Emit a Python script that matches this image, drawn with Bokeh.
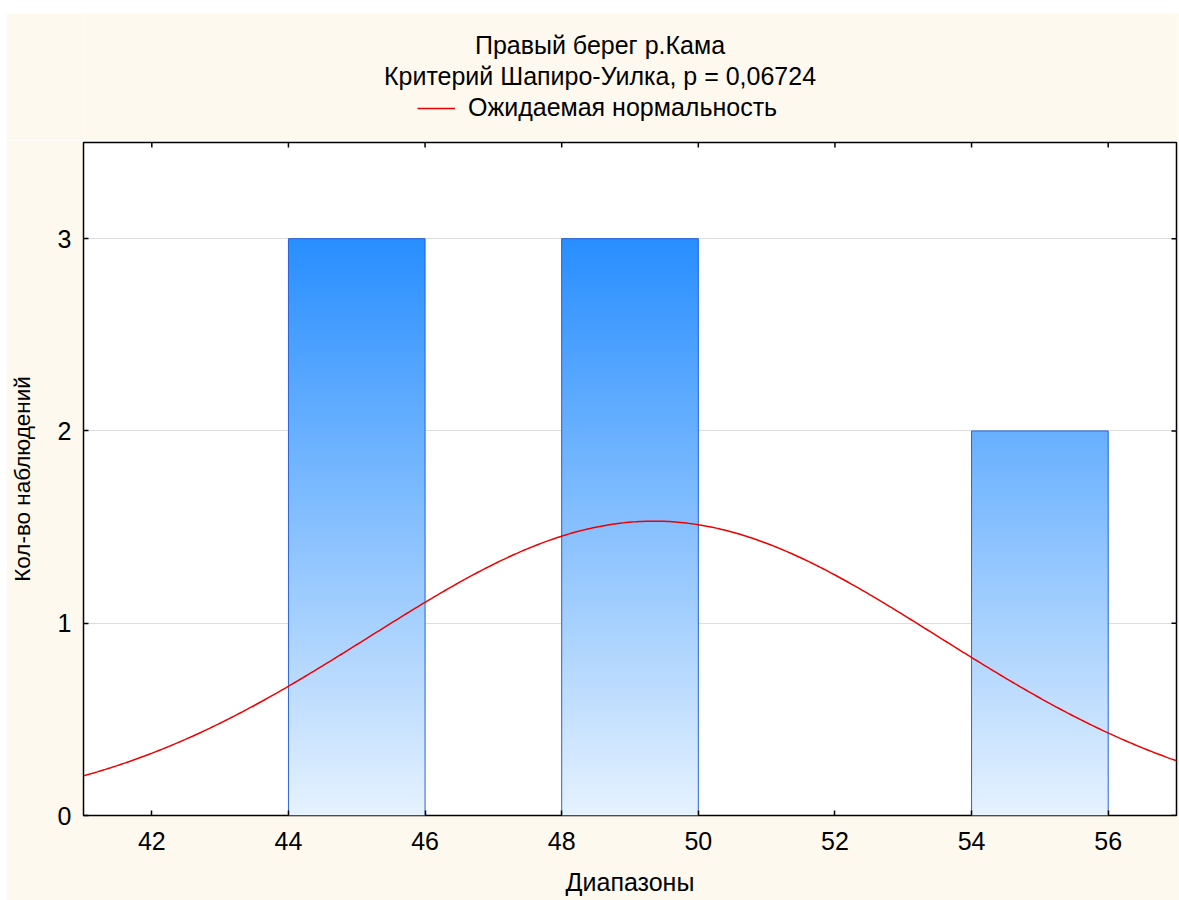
import numpy as np
from bokeh.plotting import figure
from bokeh.layouts import column
from bokeh.models import Legend, LegendItem, FixedTicker, Range1d
from bokeh.core.properties import value
from bokeh.embed import file_html
from bokeh.resources import INLINE

# ---- data ----
bin_left = [44, 48, 54]
bin_right = [46, 50, 56]
counts = [3, 3, 2]
x_ticks = [42, 44, 46, 48, 50, 52, 54, 56]
y_ticks = [0, 1, 2, 3]
x_min, x_max = 41, 57
y_min, y_max = 0, 3.5
# expected normal curve parameters (fitted from the sample)
n_obs = 8
bin_width = 2.0
mean_val = 49.35
sd_val = 4.17

title1 = "Правый берег р.Кама"
title2 = "Критерий Шапиро-Уилка, p = 0,06724"
legend_label = "Ожидаемая нормальность"
x_label = "Диапазоны"
y_label = "Кол-во наблюдений"

FONT = "Liberation Sans"
BG = "#FEF9EE"
RED = "#EE0000"

# ---------------- header (titles + legend) ----------------
# header frame is aligned with the main frame (page x 83..1176)
head = figure(width=1173, height=127, output_backend="svg", toolbar_location=None,
              x_range=Range1d(83, 1176), y_range=Range1d(127, 0),
              min_border=0, min_border_left=77, min_border_right=3,
              background_fill_color=BG, border_fill_color=BG,
              outline_line_color=None, x_axis_type=None, y_axis_type=None,
              margin=(13, 0, 0, 6))
head.grid.visible = False
head.text(x=[599.5, 599.5], y=[31, 62], text=[title1, title2],
          text_font=value(FONT), text_font_size="25px", text_align="center",
          text_baseline="middle", text_color="black")
proxy = head.line(x=[np.nan, np.nan], y=[np.nan, np.nan], line_color=RED,
                  line_width=1.5)
legend = Legend(items=[LegendItem(label=legend_label, renderers=[proxy])],
                location=(334, 18), orientation="horizontal",
                background_fill_alpha=0, border_line_color=None,
                padding=0, margin=0, glyph_width=38, glyph_height=26,
                label_standoff=13, label_text_font=FONT,
                label_text_font_size="25px", label_text_color="black")
head.add_layout(legend, "center")

# ---------------- main histogram ----------------
p = figure(width=1173, height=760, output_backend="svg", toolbar_location=None,
           x_range=Range1d(x_min, x_max), y_range=Range1d(y_min, y_max),
           min_border_left=77, min_border_right=3, min_border_top=2,
           min_border_bottom=85, background_fill_color="white",
           border_fill_color=BG, outline_line_color="black",
           outline_line_width=1.5, margin=(0, 0, 0, 6))

# gradient fill: colour depends on absolute y (0 -> light, max count -> dark)
top_rgb = np.array([40, 142, 255])
bot_rgb = np.array([230, 242, 254])
ymax = max(counts)
L, R, B, T, C = [], [], [], [], []
step = 0.01
for l, r, h in zip(bin_left, bin_right, counts):
    for y0 in np.arange(0, h, step):
        y1 = min(y0 + 2.5 * step, h)
        f = (y0 + step / 2) / ymax
        rgb = bot_rgb + (top_rgb - bot_rgb) * f
        L.append(l); R.append(r); B.append(y0); T.append(y1)
        C.append("#%02x%02x%02x" % tuple(int(round(v)) for v in rgb))
p.quad(left=L, right=R, bottom=B, top=T, fill_color=C, line_color=None)
p.quad(left=bin_left, right=bin_right, bottom=[0] * len(counts), top=counts,
       fill_color=None, line_color="#2A62D8", line_width=1)

# expected normal curve
xs = np.linspace(x_min, x_max, 400)
ys = n_obs * bin_width / (sd_val * np.sqrt(2 * np.pi)) * np.exp(-0.5 * ((xs - mean_val) / sd_val) ** 2)
p.line(xs, ys, line_color=RED, line_width=1.5)

# axes styling
for ax in (p.xaxis[0], p.yaxis[0]):
    ax.axis_line_color = None
    ax.major_tick_in = 5
    ax.major_tick_out = 0
    ax.minor_tick_line_color = None
    ax.major_tick_line_color = "black"
    ax.major_tick_line_width = 1.5
    ax.major_label_text_font = FONT
    ax.major_label_text_font_size = "25px"
    ax.major_label_text_color = "black"
    ax.axis_label_text_font = FONT
    ax.axis_label_text_font_style = "normal"
    ax.axis_label_text_color = "black"
p.xaxis.axis_label_text_font_size = "25px"
p.yaxis.axis_label_text_font_size = "22.5px"
p.xaxis.ticker = FixedTicker(ticks=x_ticks)
p.yaxis.ticker = FixedTicker(ticks=y_ticks)
p.xaxis.axis_label = x_label
p.yaxis.axis_label = y_label
p.xaxis.major_label_standoff = 16
p.yaxis.major_label_standoff = 12
p.xaxis.axis_label_standoff = 15
p.yaxis.axis_label_standoff = 20

# inward ticks on the top and right frame edges (outer halves clipped by frame)
p.scatter(x=x_ticks, y=[y_max] * len(x_ticks), marker="dash", angle=np.pi / 2,
          size=10, line_color="black", line_width=1.5)
p.scatter(x=[x_max] * len(y_ticks), y=y_ticks, marker="dash", size=10,
          line_color="black", line_width=1.5)

p.xgrid.grid_line_color = None
p.ygrid.grid_line_color = "#DDDDDD"
p.ygrid.ticker = FixedTicker(ticks=[1, 2, 3])

layout = column(head, p, spacing=0)
open("out.html", "w").write(file_html(layout, INLINE))
